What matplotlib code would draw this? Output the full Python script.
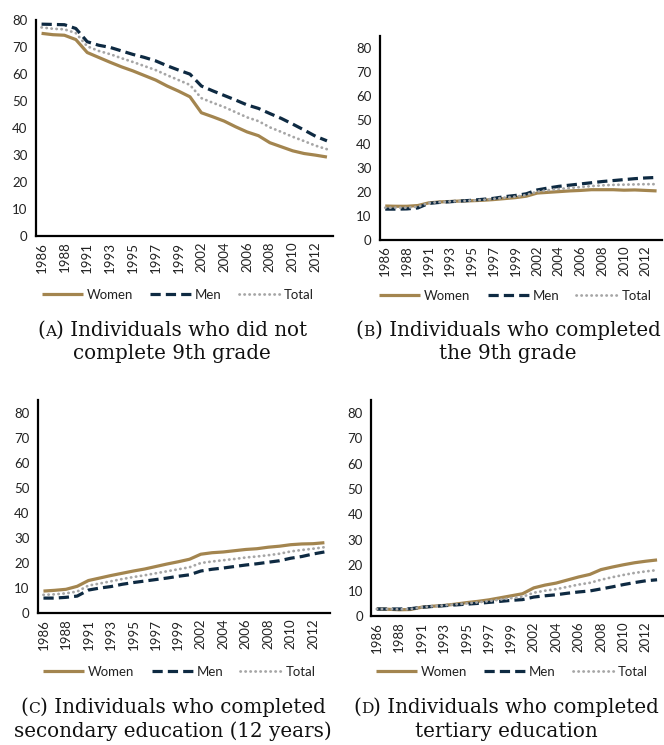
import numpy as np
import matplotlib
matplotlib.use("Agg")
import matplotlib.pyplot as plt
from matplotlib.offsetbox import TextArea, HPacker, AnchoredOffsetbox

# survey years (1990 and 2001 are not available)
years = [1986, 1987, 1988, 1989, 1991, 1992, 1993, 1994, 1995, 1996, 1997, 1998, 1999,
         2000, 2002, 2003, 2004, 2005, 2006, 2007, 2008, 2009, 2010, 2011, 2012, 2013]

# (a) did not complete 9th grade
women_a = [75.1, 74.6, 74.4, 72.8, 68.0, 66.2, 64.4, 62.7, 61.2, 59.5, 57.8, 55.6, 53.7,
           51.6, 45.7, 44.2, 42.6, 40.5, 38.6, 37.2, 34.6, 33.1, 31.6, 30.6, 30.0, 29.3]
men_a = [78.5, 78.4, 78.3, 76.9, 72.0, 70.7, 69.9, 68.6, 67.3, 66.2, 64.9, 63.1, 61.5,
         60.0, 55.6, 53.8, 52.1, 50.4, 48.6, 47.3, 45.4, 43.6, 41.5, 39.3, 37.0, 35.3]
total_a = [77.3, 76.8, 76.6, 75.2, 70.3, 68.6, 67.4, 65.9, 64.5, 63.0, 61.5, 59.6, 57.8,
           56.0, 51.1, 49.4, 47.8, 45.9, 44.0, 42.6, 40.3, 38.6, 36.8, 35.2, 33.5, 32.2]

# (b) completed 9th grade
women_b = [14.1, 14.0, 14.0, 14.3, 15.4, 15.8, 16.0, 16.2, 16.3, 16.5, 16.8, 17.2, 17.6,
           18.2, 19.5, 19.8, 20.1, 20.4, 20.6, 20.9, 20.9, 20.9, 20.7, 20.8, 20.6, 20.4]
men_b = [12.8, 12.8, 12.9, 13.3, 15.2, 15.6, 15.9, 16.2, 16.5, 16.9, 17.3, 18.0, 18.5,
         19.2, 20.8, 21.6, 22.3, 22.8, 23.3, 23.8, 24.3, 24.7, 25.1, 25.5, 25.8, 26.0]
total_b = [13.4, 13.4, 13.4, 13.8, 15.4, 15.7, 16.0, 16.2, 16.4, 16.7, 17.1, 17.6, 18.0,
           18.7, 20.1, 20.7, 21.2, 21.6, 22.0, 22.4, 22.7, 22.9, 23.0, 23.1, 23.2, 23.2]

# (c) completed secondary education
women_c = [8.8, 9.1, 9.5, 10.7, 13.0, 14.0, 15.0, 15.9, 16.8, 17.6, 18.6, 19.6, 20.5,
           21.5, 23.5, 24.1, 24.4, 24.9, 25.4, 25.7, 26.3, 26.7, 27.3, 27.6, 27.7, 28.1]
men_c = [6.0, 6.0, 6.3, 6.8, 9.2, 10.0, 10.6, 11.5, 12.2, 12.8, 13.4, 14.0, 14.7,
         15.3, 16.8, 17.5, 18.0, 18.6, 19.2, 19.7, 20.3, 20.9, 21.9, 22.6, 23.6, 24.4]
total_c = [7.3, 7.5, 7.9, 8.6, 11.0, 11.8, 12.7, 13.6, 14.4, 15.1, 15.9, 16.7, 17.5,
           18.3, 20.0, 20.6, 21.1, 21.6, 22.2, 22.6, 23.1, 23.7, 24.6, 25.2, 25.7, 26.3]

# (d) completed tertiary education
women_d = [2.8, 2.7, 2.5, 2.6, 3.5, 3.9, 4.2, 4.7, 5.3, 5.8, 6.4, 7.2, 8.0,
           8.8, 11.1, 12.2, 13.0, 14.2, 15.4, 16.4, 18.3, 19.3, 20.2, 21.0, 21.6, 22.1]
men_d = [2.8, 2.8, 2.8, 2.9, 3.5, 3.8, 4.1, 4.4, 4.7, 5.0, 5.4, 5.8, 6.2,
         6.5, 7.5, 8.0, 8.4, 9.0, 9.5, 9.9, 10.7, 11.5, 12.4, 13.2, 13.9, 14.3]
total_d = [2.8, 2.8, 2.7, 2.8, 3.5, 3.9, 4.2, 4.6, 5.0, 5.4, 5.9, 6.5, 7.1,
           7.6, 9.2, 10.0, 10.6, 11.5, 12.4, 13.1, 14.3, 15.3, 16.2, 17.0, 17.6, 18.1]

panel_letters = ["A", "B", "C", "D"]
captions = [
    ("Individuals who did not", "complete 9th grade"),
    ("Individuals who completed", "the 9th grade"),
    ("Individuals who completed", "secondary education (12 years)"),
    ("Individuals who completed", "tertiary education"),
]

GOLD = "#A3854F"
NAVY = "#0E2A42"
GREY = "#A6A6A6"
SERIF = "DejaVu Serif"
CAP_SIZE = 14.3

plt.rcParams["font.family"] = ["Lato", "DejaVu Sans"]

fig = plt.figure(figsize=(6.64, 7.45), dpi=100)

# axes boxes: left, bottom, width, height ; ylim top
panels = [
    ([0.054, 0.683, 0.447, 0.290], 80, women_a, men_a, total_a),
    ([0.572, 0.678, 0.425, 0.274], 85, women_b, men_b, total_b),
    ([0.057, 0.177, 0.440, 0.286], 85, women_c, men_c, total_c),
    ([0.559, 0.173, 0.439, 0.290], 85, women_d, men_d, total_d),
]
legend_xy = [(0.268, 0.604), (0.776, 0.603), (0.270, 0.098), (0.771, 0.098)]
caption_x = [0.259, 0.765, 0.260, 0.762]
caption_y = [(0.557, 0.526), (0.557, 0.526), (0.051, 0.018), (0.051, 0.018)]


def caption_line(letter, text):
    # "(A)" with the letter set in small caps
    prop = dict(family=SERIF, size=CAP_SIZE, color="#111111")
    small = dict(family=SERIF, size=CAP_SIZE * 0.78, color="#111111")
    parts = [TextArea("(", textprops=prop), TextArea(letter, textprops=small),
             TextArea(") " + text, textprops=prop)]
    return HPacker(children=parts, align="baseline", pad=0, sep=0)


x = np.arange(len(years))
for i, (box, ytop, w, m, t) in enumerate(panels):
    ax = fig.add_axes(box)
    ax.plot(x, w, color=GOLD, lw=2.3, solid_capstyle="butt", label="Women", zorder=3)
    ax.plot(x, m, color=NAVY, lw=2.3, dashes=(3.2, 1.6), label="Men", zorder=4)
    ax.plot(x, t, color=GREY, lw=2.0, dashes=(0.1, 1.7), dash_capstyle="round",
            label="Total", zorder=5)
    ax.set_xlim(-0.5, len(years) - 0.5)
    ax.set_ylim(0, ytop)
    ax.set_yticks(range(0, 81, 10))
    ax.set_xticks(x[::2])
    ax.set_xticklabels([str(y) for y in years[::2]], rotation=90)
    ax.tick_params(length=0, labelsize=9.5, colors="#222222")
    ax.tick_params(axis="y", pad=6)
    ax.tick_params(axis="x", pad=4)
    for s in ["top", "right"]:
        ax.spines[s].set_visible(False)
    for s in ["left", "bottom"]:
        ax.spines[s].set_linewidth(1.6)
        ax.spines[s].set_color("black")

    fig.legend(handles=ax.get_lines(), loc="center", bbox_to_anchor=legend_xy[i],
               ncol=3, frameon=False, fontsize=9.5, handlelength=3.1,
               columnspacing=1.3, handletextpad=0.3, labelcolor="#222222")

    cx = caption_x[i]
    l1, l2 = captions[i]
    box1 = AnchoredOffsetbox(loc="center", child=caption_line(panel_letters[i], l1),
                             bbox_to_anchor=(cx, caption_y[i][0]),
                             bbox_transform=fig.transFigure, frameon=False,
                             pad=0, borderpad=0)
    fig.add_artist(box1)
    fig.text(cx, caption_y[i][1], l2, ha="center", va="center",
             family=SERIF, fontsize=CAP_SIZE, color="#111111")

fig.savefig("out.png", dpi=100)
